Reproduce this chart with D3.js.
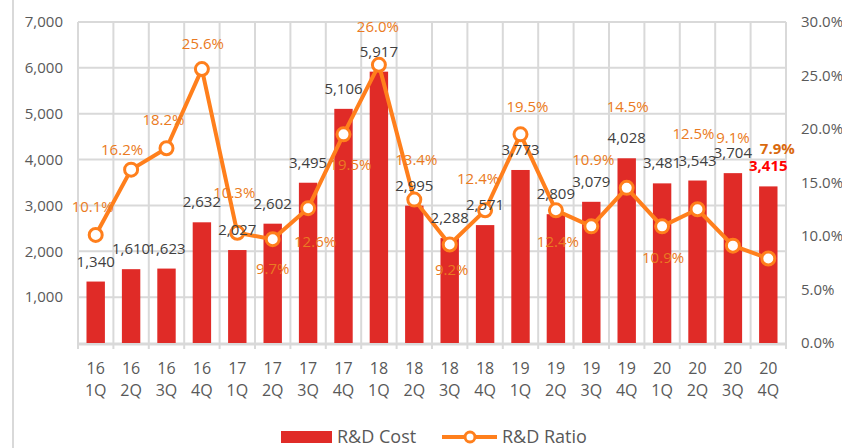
<!DOCTYPE html>
<html>
<head>
<meta charset="utf-8">
<script src="https://cdn.jsdelivr.net/npm/d3@7"></script>
<style>
  body { margin: 0; background: #fff; }
  svg text { font-family: "Open Sans", "Noto Sans", sans-serif; }
</style>
</head>
<body>
<div id="chart"></div>
<script>
// data
const years = ["16","16","16","16","17","17","17","17","18","18","18","18","19","19","19","19","20","20","20","20"];
const quarters = ["1Q","2Q","3Q","4Q","1Q","2Q","3Q","4Q","1Q","2Q","3Q","4Q","1Q","2Q","3Q","4Q","1Q","2Q","3Q","4Q"];
const rdCost = [1340, 1610, 1623, 2632, 2027, 2602, 3495, 5106, 5917, 2995, 2288, 2571, 3773, 2809, 3079, 4028, 3481, 3543, 3704, 3415];
const rdRatio = [10.1, 16.2, 18.2, 25.6, 10.3, 9.7, 12.6, 19.5, 26.0, 13.4, 9.2, 12.4, 19.5, 12.4, 10.9, 14.5, 10.9, 12.5, 9.1, 7.9];
const leftTicks = [1000, 2000, 3000, 4000, 5000, 6000, 7000];
const rightTicks = [0, 5, 10, 15, 20, 25, 30];

// hand placement of the ratio labels (like in the original sheet)
const ratioLabelOffset = [
    [-3,-28],[-9,-20],[-3,-29],[1,-25],[-3,-40],[0,30],[7,34],[7,30],[-1,-38],[2,-40],
    [2,25],[-7,-32],[7,-28],[2,31],[2,-67],[1,-81],[1,31],[-4,-76],[0,-108],[9,-110]
];

const W = 842, H = 448;
const margin = {top: 22, right: 56, bottom: 105, left: 78};
const width = W - margin.left - margin.right;
const height = H - margin.top - margin.bottom;

const svg = d3.select("#chart").append("svg")
    .attr("width", W).attr("height", H);

// outer frame line on the left
svg.append("line")
    .attr("x1", 13).attr("x2", 13).attr("y1", 0).attr("y2", H)
    .attr("stroke", "#d9d9d9").attr("stroke-width", 2);

const g = svg.append("g")
    .attr("transform", "translate(" + margin.left + "," + margin.top + ")");

const idx = d3.range(rdCost.length);
const x = d3.scaleBand().domain(idx).range([0, width]).paddingInner(0.48).paddingOuter(0.24);
const y = d3.scaleLinear().domain([0, 7000]).range([height, 0]);
const y2 = d3.scaleLinear().domain([0, 30]).range([height, 0]);
const step = width / idx.length;

const grid = "#d9d9d9";

// horizontal grid
g.selectAll(".hgrid")
    .data(leftTicks)
    .join("line")
    .attr("x1", 0).attr("x2", width)
    .attr("y1", d => y(d)).attr("y2", d => y(d))
    .attr("stroke", grid).attr("stroke-width", 2);

// vertical grid at category boundaries, running a little below the axis
g.selectAll(".vgrid")
    .data(d3.range(idx.length + 1))
    .join("line")
    .attr("x1", d => d * step).attr("x2", d => d * step)
    .attr("y1", 0).attr("y2", height + 6)
    .attr("stroke", grid).attr("stroke-width", 2);

// bottom axis line
g.append("line")
    .attr("x1", 0).attr("x2", width)
    .attr("y1", height + 1).attr("y2", height + 1)
    .attr("stroke", grid).attr("stroke-width", 3);

// left axis labels
g.selectAll(".ltick")
    .data(leftTicks)
    .join("text")
    .attr("x", -15).attr("y", d => y(d))
    .attr("dy", "0.35em")
    .attr("text-anchor", "end")
    .attr("font-size", "15px")
    .attr("fill", "#595959")
    .text(d => d3.format(",")(d));

// right axis labels
g.selectAll(".rtick")
    .data(rightTicks)
    .join("text")
    .attr("x", width + 15).attr("y", d => y2(d))
    .attr("dy", "0.35em")
    .attr("text-anchor", "start")
    .attr("font-size", "15px")
    .attr("fill", "#595959")
    .text(d => d.toFixed(1) + "%");

// category labels
const xl = g.selectAll(".xlab")
    .data(idx)
    .join("text")
    .attr("x", d => x(d) + x.bandwidth() / 2)
    .attr("text-anchor", "middle")
    .attr("font-size", "16px")
    .attr("fill", "#595959");
xl.append("tspan").attr("x", d => x(d) + x.bandwidth() / 2).attr("y", height + 31).text(d => years[d]);
xl.append("tspan").attr("x", d => x(d) + x.bandwidth() / 2).attr("y", height + 53).text(d => quarters[d]);

// bars
g.selectAll(".bar")
    .data(idx)
    .join("rect")
    .attr("x", d => x(d))
    .attr("y", d => y(rdCost[d]))
    .attr("width", x.bandwidth())
    .attr("height", d => height - y(rdCost[d]))
    .attr("fill", "#e02b27");

// ratio line
const cx = d => x(d) + x.bandwidth() / 2;
const line = d3.line().x(d => cx(d)).y(d => y2(rdRatio[d]));
g.append("path")
    .datum(idx)
    .attr("d", line)
    .attr("fill", "none")
    .attr("stroke", "#ff7f1c")
    .attr("stroke-width", 4)
    .attr("stroke-linejoin", "round");

g.selectAll(".dot")
    .data(idx)
    .join("circle")
    .attr("cx", cx)
    .attr("cy", d => y2(rdRatio[d]))
    .attr("r", 6.5)
    .attr("fill", "#fff")
    .attr("stroke", "#ff7f1c")
    .attr("stroke-width", 3);

// cost labels
const last = idx.length - 1;
g.selectAll(".clab")
    .data(idx)
    .join("text")
    .attr("x", cx)
    .attr("y", d => y(rdCost[d]) - 15)
    .attr("text-anchor", "middle")
    .attr("font-size", "15px")
    .attr("font-weight", d => d === last ? "bold" : "normal")
    .attr("fill", d => d === last ? "#ff0000" : "#404040")
    .text(d => d3.format(",")(rdCost[d]));

// ratio labels
g.selectAll(".rlab")
    .data(idx)
    .join("text")
    .attr("x", d => cx(d) + ratioLabelOffset[d][0])
    .attr("y", d => y2(rdRatio[d]) + ratioLabelOffset[d][1])
    .attr("dy", "0.35em")
    .attr("text-anchor", "middle")
    .attr("font-size", "15px")
    .attr("font-weight", d => d === last ? "bold" : "normal")
    .attr("fill", d => d === last ? "#d9690e" : "#ea7a22")
    .text(d => rdRatio[d].toFixed(1) + "%");

// legend
const lg = svg.append("g").attr("transform", "translate(0,437)");
lg.append("rect").attr("x", 281).attr("y", -6).attr("width", 51).attr("height", 12).attr("fill", "#e02b27");
lg.append("text").attr("x", 337).attr("y", 0).attr("dy", "0.35em")
    .attr("font-size", "18px").attr("fill", "#595959").text("R&D Cost");
lg.append("line").attr("x1", 442).attr("x2", 497).attr("y1", 0).attr("y2", 0)
    .attr("stroke", "#ff7f1c").attr("stroke-width", 4);
lg.append("circle").attr("cx", 470).attr("cy", 0).attr("r", 5)
    .attr("fill", "#fff").attr("stroke", "#ff7f1c").attr("stroke-width", 3);
lg.append("text").attr("x", 502).attr("y", 0).attr("dy", "0.35em")
    .attr("font-size", "18px").attr("fill", "#595959").text("R&D Ratio");
</script>
</body>
</html>
